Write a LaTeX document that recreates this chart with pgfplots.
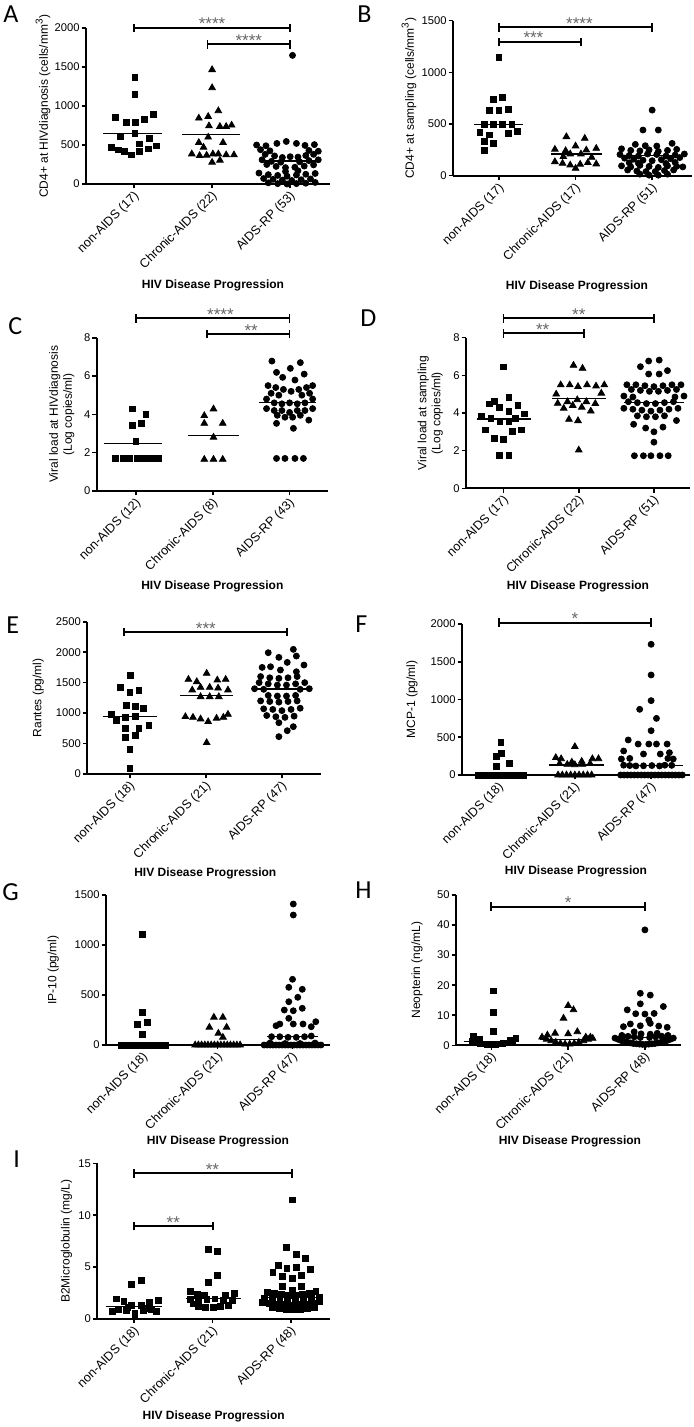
\documentclass[border=0pt]{standalone}
\usepackage{fontspec}
\setmainfont{Liberation Sans}
\newfontfamily\letterfont{Carlito}
\usepackage{pgfplots}
\pgfplotsset{compat=1.18}
\pgfplotsset{
 panel/.style={
  scale only axis, clip=false, anchor=south west,
  axis x line*=bottom, axis y line*=left,
  axis line style={line width=1pt,-},
  ymin=0, xtick={0,1,2},
  tick align=outside, major tick length=2.2pt,
  tick style={black,line width=0.8pt},
  /pgf/number format/assume math mode=true,
  /pgf/number format/1000 sep={},
  scaled y ticks=false,
  yticklabel style={font=\fontsize{5.6}{6}\selectfont,inner sep=0.8pt},
  xticklabel style={xshift=2.2pt,yshift=-2.2pt,rotate=45,anchor=east,font=\fontsize{6.3}{7}\selectfont,inner sep=0.8pt},
  ylabel style={anchor=center,font=\fontsize{6}{7}\selectfont,align=center},
  xlabel style={anchor=center,font=\bfseries\fontsize{6}{7}\selectfont},
  xlabel={HIV Disease Progression},
 },
 sq/.style={only marks, mark=square*, mark size=1.45pt, black},
 tri/.style={only marks, mark=triangle*, mark size=1.9pt, black},
 cir/.style={only marks, mark=*, mark size=1.5pt, black},
 mean/.style={black, line width=0.6pt, no marks},
}
\newcommand{\sigbar}[5]{%
 \draw[line width=0.9pt] (axis cs:#1,#4) -- (axis cs:#2,#4);
 \draw[line width=0.9pt] ([yshift=-2.2pt]axis cs:#1,#4) -- ([yshift=2.2pt]axis cs:#1,#4);
 \draw[line width=0.9pt] ([yshift=-2.2pt]axis cs:#2,#4) -- ([yshift=2.2pt]axis cs:#2,#4);
 \node[anchor=base, inner sep=0pt, text=black!60, font=\fontsize{8.5}{9}\selectfont, yshift=-1pt] at (axis cs:#3,#4) {#5};
}
\newcommand{\lettercmd}[3]{\node[anchor=base west, inner sep=0pt, font=\letterfont\fontsize{13}{14}\selectfont] at (#1pt,#2pt) {#3};}
\begin{document}
\begin{tikzpicture}
% ---------------- A
\begin{axis}[panel, at={(43pt,-92pt)}, width=122pt, height=78pt,
 xmin=-0.615, xmax=2.51, ymax=2000, ytick={0,500,1000,1500,2000},
 xticklabels={non-AIDS (17),Chronic-AIDS (22),AIDS-RP (53)},
 ylabel={CD4+ at HIVdiagnosis (cells/mm\textsuperscript{3})},
 ylabel style={at={(axis description cs:-0.1762,0.5)}},
 xlabel style={at={(axis description cs:0.5205,-0.6474)}}]
\addplot[sq] coordinates {(0.01,1362)(0.01,1152)(-0.24,852)(-0.10,792)(0.02,792)(0.13,831)(0.25,891)(0.01,651)(-0.17,604)(0.20,582)(0.07,514)(-0.29,467)(-0.20,437)(-0.12,415)(-0.03,373)(0.07,415)(0.18,450)(0.29,488)};
\addplot[tri] coordinates {(1,1465)(1,1233)(1.08,938)(0.83,844)(0.95,865)(0.96,745)(1.10,737)(1.18,737)(1.25,754)(0.95,600)(0.83,531)(1.14,531)(0.74,385)(0.84,364)(0.93,368)(1.01,385)(1.08,385)(1.18,373)(1.28,373)(1.0,278)(1.10,304)(0.89,470)};
\addplot[cir] coordinates {(2.03,1649)
(1.57,500)(1.69,490)(1.83,520)(1.95,545)(2.08,520)(2.19,495)(2.31,505)
(1.62,440)(1.74,425)(2.24,430)(2.36,420)
(1.68,380)(1.80,360)(1.90,340)(2.00,350)(2.10,345)(2.20,365)(2.30,380)
(1.64,310)(1.76,290)(1.88,280)(2.12,285)(2.24,300)(2.36,310)
(1.70,250)(1.82,225)(1.94,210)(2.06,215)(2.18,230)(2.30,245)
(1.60,140)(1.72,120)(1.84,110)(1.96,100)(2.08,115)(2.20,125)(2.32,135)
(1.66,70)(1.78,60)(1.90,50)(2.02,45)(2.14,55)(2.26,65)
(1.72,15)(1.84,5)(1.96,0)(2.08,5)(2.20,10)(2.32,20)
(1.94,160)(2.10,170)};
\addplot[mean] coordinates {(-0.40,651)(0.36,651)};
\addplot[mean] coordinates {(0.62,630)(1.36,630)};
\addplot[mean] coordinates {(1.68,295)(2.36,295)};
\sigbar{0}{2}{1}{2000}{****}
\sigbar{0.94}{2}{1.47}{1791}{****}
\end{axis}
% ---------------- B
\begin{axis}[panel, at={(226.5pt,-87.85pt)}, width=119.5pt, height=77.5pt,
 xmin=-0.60, xmax=2.52, ymax=1500, ytick={0,500,1000,1500},
 xticklabels={non-AIDS (17),Chronic-AIDS (17),AIDS-RP (51)},
 ylabel={CD4+ at sampling (cells/mm\textsuperscript{3})},
 ylabel style={at={(axis description cs:-0.1841,0.5)}},
 xlabel style={at={(axis description cs:0.5188,-0.7161)}}]
\addplot[sq] coordinates {(0,1145)(-0.07,739)(0.05,758)(-0.12,635)(0,635)(0.12,645)(-0.19,500)(-0.07,500)(0.05,500)(0.17,500)(-0.25,419)(-0.12,394)(0.12,410)(0.24,432)(-0.19,329)(-0.07,313)(-0.19,242)};
\addplot[tri] coordinates {(0.88,377)(1.12,361)(0.73,255)(0.87,242)(1,287)(1.14,248)(1.27,264)(0.93,210)(1.07,210)(0.73,135)(0.83,119)(0.93,103)(1.06,110)(1.16,126)(1.27,113)(1,71)(0.84,184)(1.21,177)};
\addplot[cir] coordinates {(2,635)(1.88,442)(2.08,442)(1.78,303)(1.91,290)(2.06,287)(2.26,313)
(1.60,260)(1.72,245)(1.84,240)(1.96,250)(2.08,235)(2.20,245)(2.32,255)
(1.58,205)(1.70,195)(1.82,190)(2.18,190)(2.30,200)(2.42,210)
(1.64,170)(1.76,160)(1.88,150)(2.00,145)(2.12,155)(2.24,165)(2.36,175)
(1.60,95)(1.72,85)(1.84,100)(1.96,90)(2.08,80)(2.20,95)(2.32,90)(2.40,85)
(1.70,125)(1.82,120)(2.18,118)(2.30,128)
(1.68,55)(1.80,45)(1.92,40)(2.04,40)(2.16,50)(2.28,55)
(1.84,15)(1.96,5)(2.08,5)(2.20,15)(1.94,210)(2.06,205)};
\addplot[mean] coordinates {(-0.32,497)(0.32,497)};
\addplot[mean] coordinates {(0.68,210)(1.34,210)};
\addplot[mean] coordinates {(1.62,195)(2.40,195)};
\sigbar{0}{2}{1.05}{1436}{****}
\sigbar{0}{1.07}{0.45}{1294}{***}
\end{axis}
% ---------------- C
\begin{axis}[panel, at={(48.35pt,-245.5pt)}, width=115.65pt, height=76.65pt,
 xmin=-0.51, xmax=2.50, ymax=8, ytick={0,2,4,6,8},
 xticklabels={non-AIDS (12),Chronic-AIDS (8),AIDS-RP (43)},
 ylabel={Viral load at HIVdiagnosis\\(Log copies/ml)},
 ylabel style={at={(axis description cs:-0.1513,0.5)}},
 xlabel style={at={(axis description cs:0.5,-0.6243)}}]
\addplot[sq] coordinates {(-0.05,4.28)(0.13,4.0)(-0.05,3.44)(0.07,3.53)(0,2.57)(-0.27,1.7)(-0.17,1.7)(-0.08,1.7)(0.02,1.7)(0.11,1.7)(0.2,1.7)(0.29,1.7)};
\addplot[tri] coordinates {(1.01,4.28)(0.89,3.93)(0.89,3.53)(1.13,3.53)(1.01,2.8)(0.89,1.65)(1.01,1.65)(1.13,1.65)};
\addplot[cir] coordinates {(1.77,6.78)(2.14,6.70)(2.01,6.40)(1.83,6.19)(2.19,6.10)(1.91,5.93)(2.07,5.79)
(1.72,5.5)(1.82,5.4)(1.92,5.3)(2.02,5.2)(2.12,5.3)(2.22,5.4)(2.30,5.5)
(1.76,5.1)(1.86,5.0)(2.16,5.0)(2.26,5.1)(1.70,4.8)(2.30,4.8)
(1.80,4.6)(1.90,4.55)(2.0,4.6)(2.1,4.55)(2.2,4.6)
(1.70,4.3)(1.80,4.2)(1.90,4.2)(2.0,4.1)(2.1,4.2)(2.2,4.2)(2.3,4.3)
(1.84,3.95)(1.94,3.85)(2.04,3.85)(2.14,3.95)
(1.83,3.53)(2.05,3.27)(2.25,3.7)
(1.83,1.7)(1.94,1.7)(2.07,1.7)(2.18,1.7)};
\addplot[mean] coordinates {(-0.42,2.49)(0.34,2.49)};
\addplot[mean] coordinates {(0.68,2.9)(1.34,2.9)};
\addplot[mean] coordinates {(1.60,4.63)(2.34,4.63)};
\sigbar{0}{2}{1.1}{9.01}{****}
\sigbar{0.93}{2}{1.5}{8.19}{**}
\end{axis}
% ---------------- D
\begin{axis}[panel, at={(233pt,-244.15pt)}, width=112pt, height=75.3pt,
 xmin=-0.50, xmax=2.48, ymax=8, ytick={0,2,4,6,8},
 xticklabels={non-AIDS (17),Chronic-AIDS (22),AIDS-RP (51)},
 ylabel={Viral load at sampling\\(Log copies/ml)},
 ylabel style={at={(axis description cs:-0.1594,0.5)}},
 xlabel style={at={(axis description cs:0.5,-0.6534)}}]
\addplot[sq] coordinates {(0,6.45)(0.07,4.83)(-0.12,4.6)(-0.19,4.48)(0.19,4.41)(-0.06,4.3)(0.07,4.07)(0.28,3.95)(-0.29,3.84)(-0.17,3.72)(0.16,3.72)(-0.05,3.54)(0.07,3.54)(-0.24,3.1)(0.12,3.04)(0.24,3.1)(-0.12,2.65)(0,2.6)(-0.06,1.73)(0.07,1.73)};
\addplot[tri] coordinates {(0.93,6.53)(1.05,6.37)(0.76,5.49)(0.88,5.49)(0.99,5.4)(1.11,5.49)(1.23,5.43)(1.34,5.49)(0.7,5.0)(1.3,5.05)(0.72,4.51)(0.85,4.6)(0.98,4.7)(1.1,4.6)(1.22,4.5)(0.8,4.25)(0.92,4.4)(1.04,4.3)(1.16,4.1)(0.87,3.66)(0.99,3.59)(1,2.03)};
\addplot[cir] coordinates {(1.93,6.76)(2.07,6.81)(1.82,6.46)(2.18,6.25)(1.93,6.07)(2.07,6.07)
(1.64,5.5)(1.76,5.5)(1.88,5.45)(2.0,5.4)(2.12,5.45)(2.24,5.5)(2.36,5.5)
(1.7,5.25)(1.82,5.2)(1.94,5.15)(2.06,5.15)(2.18,5.2)(2.3,5.25)
(1.6,4.9)(1.72,4.85)(2.28,4.85)(2.4,4.9)
(1.66,4.6)(1.78,4.55)(1.9,4.5)(2.02,4.5)(2.14,4.55)(2.26,4.6)
(1.6,4.25)(1.72,4.2)(1.84,4.15)(1.96,4.1)(2.08,4.15)(2.2,4.2)(2.32,4.25)
(1.78,3.85)(1.9,3.8)(2.02,3.8)(2.14,3.85)
(1.73,3.4)(1.89,3.2)(2.12,3.25)(2.0,3.0)(2.3,3.6)(2.0,2.45)
(1.74,1.73)(1.86,1.73)(1.96,1.73)(2.08,1.73)(2.19,1.73)};
\addplot[mean] coordinates {(-0.36,3.68)(0.36,3.68)};
\addplot[mean] coordinates {(0.64,4.76)(1.36,4.76)};
\addplot[mean] coordinates {(1.60,4.55)(2.40,4.55)};
\sigbar{0}{2}{1.0}{9.03}{**}
\sigbar{0}{1.07}{0.52}{8.23}{**}
\end{axis}
% ---------------- E
\begin{axis}[panel, at={(43.65pt,-387pt)}, width=116.7pt, height=76.15pt,
 xmin=-0.56, xmax=2.51, ymax=2500, ytick={0,500,1000,1500,2000,2500},
 xticklabels={non-AIDS (18),Chronic-AIDS (21),AIDS-RP (47)},
 ylabel={Rantes (pg/ml)},
 ylabel style={at={(axis description cs:-0.2099,0.5)}},
 xlabel style={at={(axis description cs:0.5056,-0.652)}}]
\addplot[sq] coordinates {(0.01,1625)(-0.12,1422)(0,1335)(0.12,1368)(-0.05,1132)(0.07,1116)(0.18,1078)(-0.24,985)(-0.06,930)(-0.18,875)(0.07,952)(-0.06,750)(0.12,750)(0.25,793)(-0.06,596)(0.07,629)(0,405)(0,93)};
\addplot[tri] coordinates {(1.01,1652)(0.77,1553)(0.88,1515)(1.15,1542)(1.26,1553)(0.93,1422)(1.05,1422)(1.16,1410)(0.82,1378)(1.29,1378)(0.93,1269)(1.05,1269)(1.17,1269)(0.73,941)(0.83,930)(0.93,903)(1.03,859)(1.14,914)(1.23,930)(1.29,979)(1.01,514)};
\addplot[cir] coordinates {(2.15,2046)(1.82,1991)(1.96,1915)(2.19,1936)(2.07,1832)(1.85,1761)(2.29,1789)(1.74,1750)(1.98,1707)(2.19,1679)
(1.72,1600)(1.84,1580)(1.96,1570)(2.08,1580)(2.20,1600)
(1.70,1500)(1.82,1480)(1.94,1460)(2.06,1460)(2.18,1480)(2.30,1500)
(1.64,1400)(1.76,1390)(2.24,1390)(2.36,1400)
(1.82,1290)(1.94,1280)(2.06,1280)(2.18,1290)
(1.72,1200)(1.84,1190)(1.96,1180)(2.08,1190)(2.20,1200)
(1.76,1070)(1.88,1060)(2.0,1040)(2.12,1060)(2.24,1080)
(1.80,960)(1.92,940)(2.04,930)(2.16,950)
(1.96,842)(2.15,777)(2.07,711)(1.96,613)};
\addplot[mean] coordinates {(-0.36,941)(0.36,941)};
\addplot[mean] coordinates {(0.66,1286)(1.36,1286)};
\addplot[mean] coordinates {(1.60,1395)(2.38,1395)};
\sigbar{-0.075}{2.07}{1.0}{2331}{***}
\end{axis}
% ---------------- F
\begin{axis}[panel, at={(231pt,-387.5pt)}, width=114pt, height=75.5pt,
 xmin=-0.48, xmax=2.51, ymax=2000, ytick={0,500,1000,1500,2000},
 xticklabels={non-AIDS (18),Chronic-AIDS (21),AIDS-RP (47)},
 ylabel={MCP-1 (pg/ml)},
 ylabel style={at={(axis description cs:-0.2193,0.5)}},
 xlabel style={at={(axis description cs:0.5,-0.6404)}}]
\addplot[sq] coordinates {(0.03,428)(-0.03,243)(0.04,287)(-0.03,119)(0.14,155)(-0.26,0)(-0.21,0)(-0.16,0)(-0.11,0)(-0.06,0)(-0.01,0)(0.04,0)(0.09,0)(0.14,0)(0.19,0)(0.24,0)(0.29,0)(0.33,0)};
\addplot[tri] coordinates {(1,375)(0.75,230)(0.82,215)(0.96,170)(1.09,180)(1.23,215)(1.31,215)(0.9,140)(1.0,135)(1.1,140)(1.2,150)(0.8,150)(0.78,0)(0.835,0)(0.89,0)(0.945,0)(1,0)(1.055,0)(1.11,0)(1.165,0)(1.22,0)};
\addplot[cir] coordinates {(2,1731)(2,1325)(2,985)(1.85,870)(2.07,750)(2,587)(1.7,464)(1.83,410)(1.97,410)(2.07,410)(2.21,410)(1.64,318)(1.9,278)(2.12,278)(2.24,296)(1.61,212)(1.72,220)(2.22,220)(2.29,212)
(1.64,130)(1.72,125)(1.80,120)(1.90,122)(2.01,125)(2.11,120)(2.18,130)(2.27,128)
(1.60,0)(1.645,0)(1.69,0)(1.735,0)(1.78,0)(1.825,0)(1.87,0)(1.915,0)(1.96,0)(2.005,0)(2.05,0)(2.095,0)(2.14,0)(2.185,0)(2.23,0)(2.275,0)(2.32,0)(2.365,0)(2.41,0)};
\addplot[mean] coordinates {(0.66,132)(1.38,132)};
\addplot[mean] coordinates {(1.62,124)(2.42,124)};
\sigbar{0}{2}{1.0}{2017}{*}
\end{axis}
% ---------------- G
\begin{axis}[panel, at={(53pt,-522.5pt)}, width=112pt, height=75pt,
 xmin=-0.49, xmax=2.50, ymax=1500, ytick={0,500,1000,1500},
 xticklabels={non-AIDS (18),Chronic-AIDS (21),AIDS-RP (47)},
 ylabel={IP-10 (pg/ml)},
 ylabel style={at={(axis description cs:-0.2353,0.5)}},
 xlabel style={at={(axis description cs:0.5,-0.6447)}}]
\addplot[sq] coordinates {(0,1107)(0,323)(-0.07,210)(0.06,227)(0,103)(-0.29,0)(-0.24,0)(-0.19,0)(-0.14,0)(-0.09,0)(-0.04,0)(0.01,0)(0.06,0)(0.11,0)(0.16,0)(0.21,0)(0.26,0)(0.31,0)};
\addplot[tri] coordinates {(0.95,277)(1.07,277)(0.89,177)(1.12,177)(1.01,117)(1.07,77)(0.70,0)(0.743,0)(0.786,0)(0.829,0)(0.871,0)(0.914,0)(0.957,0)(1.0,0)(1.043,0)(1.086,0)(1.129,0)(1.171,0)(1.214,0)(1.257,0)(1.3,0)};
\addplot[cir] coordinates {(2.01,1410)(2.01,1300)(2,657)(1.95,577)(2.13,557)(1.95,433)(2.07,477)(1.89,350)(2.01,343)(2.13,367)(1.95,267)(1.78,193)(1.83,210)(2.01,210)(2.14,210)(2.25,183)(2.31,233)(1.72,83)(1.83,83)(1.94,77)(2.05,77)(2.16,83)(2.25,90)
(1.62,0)(1.66,0)(1.70,0)(1.74,0)(1.78,0)(1.82,0)(1.86,0)(1.90,0)(1.94,0)(1.98,0)(2.02,0)(2.06,0)(2.10,0)(2.14,0)(2.18,0)(2.22,0)(2.26,0)(2.30,0)(2.34,0)(2.38,0)
(1.7,20)(1.9,15)(2.1,15)(2.3,20)};
\addplot[mean] coordinates {(1.66,88)(2.34,88)};
\end{axis}
% ---------------- H
\begin{axis}[panel, at={(228pt,-522.65pt)}, width=112.5pt, height=75.15pt,
 xmin=-0.46, xmax=2.47, ymax=50, ytick={0,10,20,30,40,50},
 xticklabels={non-AIDS (18),Chronic-AIDS (21),AIDS-RP (48)},
 ylabel={Neopterin (ng/mL)},
 ylabel style={at={(axis description cs:-0.1733,0.5)}},
 xlabel style={at={(axis description cs:0.5067,-0.6414)}}]
\addplot[sq] coordinates {(0.03,18.1)(0.03,10.9)(0.03,4.5)(-0.23,3.1)(-0.16,2.0)(0.32,2.3)(0.25,1.55)(-0.2,1.0)(-0.15,0.7)(-0.1,0.5)(-0.05,0.4)(0,0.3)(0.05,0.35)(0.1,0.45)(0.15,0.6)(0.2,0.8)(-0.25,1.4)(0.27,1.1)};
\addplot[tri] coordinates {(1,13.2)(1.07,11.8)(0.94,9.0)(0.73,3.4)(0.83,4.0)(1,3.8)(1.12,4.5)(0.66,2.7)(1.23,2.7)(1.29,2.7)(0.72,2.0)(0.78,1.5)(0.84,1.0)(0.9,0.6)(0.96,0.4)(1.02,0.4)(1.08,0.6)(1.14,1.0)(1.2,1.5)(1.26,2.0)(1.32,2.3)};
\addplot[cir] coordinates {(2,38.4)(1.94,17.3)(2.07,16.7)(1.94,13.8)(2.24,12.9)(1.77,11.8)(1.88,10.5)(2,10.4)(2.12,10.6)(2.05,8.4)(1.72,6.2)(1.81,7.1)(1.94,6.5)(2.07,7.3)(2.18,6.4)(2.29,6.0)(1.86,4.5)(1.95,3.8)(2.07,3.7)(2.16,4.0)
(1.7,3.3)(1.78,3.0)(1.86,2.8)(1.94,2.6)(2.06,2.6)(2.14,2.8)(2.22,3.0)(2.3,3.3)
(1.65,2.0)(1.69,1.6)(1.73,1.3)(1.77,1.0)(1.81,0.8)(1.85,0.6)(1.89,0.5)(1.93,0.4)(1.97,0.3)(2.01,0.3)(2.05,0.4)(2.09,0.5)(2.13,0.6)(2.17,0.8)(2.21,1.0)(2.25,1.3)(2.29,1.6)(2.33,2.0)(2.37,2.4)(1.61,2.4)};
\addplot[mean] coordinates {(-0.36,1.2)(0.36,1.2)};
\addplot[mean] coordinates {(0.64,2.0)(1.36,2.0)};
\addplot[mean] coordinates {(1.62,2.7)(2.38,2.7)};
\sigbar{0}{2}{1.0}{46.1}{*}
\end{axis}
% ---------------- I
\begin{axis}[panel, at={(48.65pt,-659.5pt)}, width=116.35pt, height=77.85pt,
 xmin=-0.47, xmax=2.50, ymax=15, ytick={0,5,10,15},
 xticklabels={non-AIDS (18),Chronic-AIDS (21),AIDS-RP (48)},
 ylabel={B2Microglobulin (mg/L)},
 ylabel style={at={(axis description cs:-0.1319,0.5)}},
 xlabel style={at={(axis description cs:0.5,-0.6275)}}]
\addplot[sq] coordinates {(-0.03,3.37)(0.09,3.69)(-0.23,1.93)(-0.13,1.67)(-0.03,1.35)(0.09,1.35)(0.2,1.57)(0.31,1.77)(-0.2,0.93)(-0.1,0.8)(0.01,0.55)(0.12,0.8)(0.22,0.93)(0.01,0.25)(-0.08,1.1)(0.14,1.05)(-0.28,0.75)(0.28,0.7)};
\addplot[sq] coordinates {(0.95,6.71)(1.06,6.49)(1.06,4.24)(0.95,3.53)(0.72,2.63)(0.81,2.38)(0.9,2.31)(1.16,2.31)(1.28,2.5)(0.72,1.9)(0.82,1.77)(0.93,1.9)(1.03,1.93)(1.14,1.77)(1.25,1.83)(0.82,1.25)(0.91,1.12)(1.01,1.09)(1.1,1.19)(1.2,1.35)(0.76,1.45)};
\addplot[sq] coordinates {(2.02,11.47)(1.94,6.9)(2.07,6.26)(2.19,5.85)(1.84,5.2)(1.95,4.88)(2.07,4.98)(2.25,4.79)(1.77,4.46)(1.89,4.14)(2.02,3.92)(2.14,4.24)(1.89,3.12)(2.02,2.8)(2.14,3.12)
(1.7,2.6)(1.79,2.5)(1.88,2.4)(1.97,2.3)(2.06,2.3)(2.15,2.4)(2.24,2.5)(2.32,2.65)
(1.66,2.0)(1.76,1.95)(1.86,1.9)(1.96,1.85)(2.06,1.85)(2.16,1.9)(2.26,1.95)(2.36,2.05)
(1.64,1.6)(1.72,1.5)(1.8,1.45)(1.88,1.4)(1.96,1.35)(2.04,1.35)(2.12,1.4)(2.2,1.45)(2.28,1.55)(2.36,1.65)
(1.76,1.1)(1.85,1.0)(1.94,0.9)(2.03,0.9)(2.12,0.95)(2.21,1.05)(2.3,1.15)};
\addplot[mean] coordinates {(-0.36,1.19)(0.36,1.19)};
\addplot[mean] coordinates {(0.66,2.0)(1.36,2.0)};
\addplot[mean] coordinates {(1.62,2.05)(2.38,2.05)};
\sigbar{0}{2.01}{1.0}{14.04}{**}
\sigbar{0}{1.01}{0.5}{8.96}{**}
\end{axis}
% letters
\lettercmd{1.5}{-11.5}{A}
\lettercmd{178.5}{-11.5}{B}
\lettercmd{4}{-167.5}{C}
\lettercmd{180}{-163.5}{D}
\lettercmd{3}{-316.5}{E}
\lettercmd{177.5}{-316}{F}
\lettercmd{1}{-450}{G}
\lettercmd{177.5}{-449}{H}
\lettercmd{6.5}{-583.5}{I}
\pgfresetboundingbox
\path (0,0) rectangle (347pt,-713.5pt);
\end{tikzpicture}
\end{document}
